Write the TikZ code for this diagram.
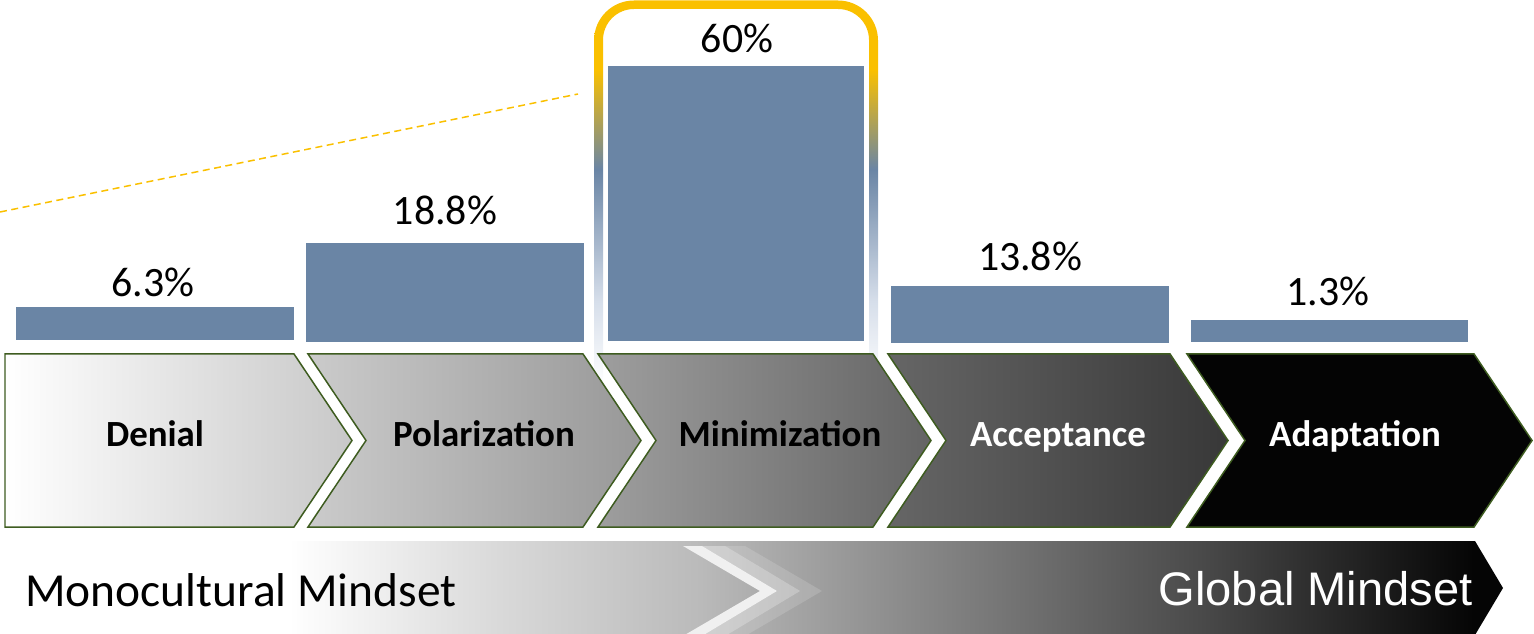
\documentclass[tikz,border=0pt]{standalone}
\usepackage{fontspec}
\setmainfont{Carlito}
\newfontfamily\arialf{Liberation Sans}
\definecolor{barblue}{RGB}{106,133,165}
\definecolor{hlgold}{RGB}{250,192,0}
\definecolor{hllight}{RGB}{214,222,234}
\definecolor{chevline}{RGB}{62,92,32}
\definecolor{bandA}{RGB}{217,217,217}
\definecolor{bandB}{RGB}{186,186,186}
\definecolor{bandC}{RGB}{140,140,140}
\definecolor{bandD}{RGB}{74,74,74}
\definecolor{bandE}{RGB}{5,5,5}
\pgfdeclareverticalshading{hlshade}{100bp}{color(0bp)=(white); color(34bp)=(white); color(43bp)=(hllight); color(57bp)=(barblue); color(67.6bp)=(hlgold); color(100bp)=(hlgold)}
\pgfdeclarehorizontalshading{bandshade}{100bp}{color(0bp)=(white); color(34.6bp)=(white); color(41.6bp)=(bandA); color(48.3bp)=(bandB); color(54.9bp)=(bandC); color(64.9bp)=(bandD); color(74bp)=(bandE); color(100bp)=(black)}
\tikzset{
  pct/.style={inner sep=0pt, anchor=base, font=\fontsize{23.8pt}{28pt}\selectfont},
  stage/.style={inner sep=0pt, anchor=base, font=\fontsize{21pt}{25pt}\selectfont\bfseries},
  chevbox/.style={draw=chevline, line width=0.03cm, line join=miter},
  bar/.style={fill=barblue},
}
\begin{document}
\begin{tikzpicture}[x=0.02cm, y=-0.02cm]
\useasboundingbox (0,0) rectangle (1534,634);
\clip (0,0) rectangle (1534,634);
% highlight ring
\begin{scope}[even odd rule]
  \clip (0,0) rectangle (1534,385);
  \shade[shading=hlshade, even odd rule] [rounded corners=0.8cm] (594,0.5) rectangle (878,470) [rounded corners=0.62cm] (603,9) rectangle (869,461);
\end{scope}
% dashed line
\coordinate (dlA) at (0,212);
\coordinate (dlB) at (578,94);
\draw[hlgold, line width=0.03cm, dash pattern=on 0.14cm off 0.09cm] (dlA) -- (dlB);
% bars
\fill[bar] (16,307) rectangle (294,340);
\fill[bar] (306,243) rectangle (584,342);
\fill[bar] (608,66) rectangle (864,341);
\fill[bar] (891,286) rectangle (1169,343);
\fill[bar] (1191,320) rectangle (1468,342);
% percentages
\node[pct] (p1) at (153,297) {6.3\%};
\node[pct] (p2) at (445,225) {18.8\%};
\node[pct] (p3) at (737,53) {60\%};
\node[pct] (p4) at (1030,271) {13.8\%};
\node[pct] (p5) at (1328,306) {1.3\%};
% chevrons
\path[chevbox, left color=white, right color={rgb,255:red,200;green,200;blue,200}]
  (5,354) -- (294,354) -- (352,440.5) -- (294,527) -- (5,527) -- cycle;
\path[chevbox, left color={rgb,255:red,203;green,203;blue,203}, right color={rgb,255:red,152;green,152;blue,152}]
  (308,354) -- (583,354) -- (641,440.5) -- (583,527) -- (308,527) -- (366,440.5) -- cycle;
\path[chevbox, left color={rgb,255:red,158;green,158;blue,158}, right color={rgb,255:red,100;green,100;blue,100}]
  (598,354) -- (873,354) -- (931,440.5) -- (873,527) -- (598,527) -- (656,440.5) -- cycle;
\path[chevbox, left color={rgb,255:red,102;green,102;blue,102}, right color={rgb,255:red,56;green,56;blue,56}]
  (888,354) -- (1170,354) -- (1228,440.5) -- (1170,527) -- (888,527) -- (946,440.5) -- cycle;
\path[chevbox, fill={rgb,255:red,4;green,4;blue,4}]
  (1187,354) -- (1474,354) -- (1532,440.5) -- (1474,527) -- (1187,527) -- (1245,440.5) -- cycle;
\node[stage] (s1) at (155,447) {Denial};
\node[stage] (s2) at (484,447) {Polarization};
\node[stage] (s3) at (780,447) {Minimization};
\node[stage, text=white] (s4) at (1058,447) {Acceptance};
\node[stage, text=white] (s5) at (1355,447) {Adaptation};
% bottom band
\shade[shading=bandshade] (0,541) -- (1475,541) -- (1503,588) -- (1475,635) -- (0,635) -- cycle;
\fill[white, opacity=0.15] (725,546) -- (745,546) -- (822,591) -- (745,636) -- (725,636) -- (800,591) -- cycle;
\fill[white, opacity=0.35] (702,546) -- (725,546) -- (800,591) -- (725,636) -- (702,636) -- (777,591) -- cycle;
\fill[white!94!black] (683,546) -- (702,546) -- (777,591) -- (702,636) -- (683,636) -- (760,591) -- cycle;
\node[inner sep=0pt, anchor=base west, font=\fontsize{27pt}{32pt}\selectfont] (mono) at (25,606) {Monocultural Mindset};
\node[inner sep=0pt, anchor=base east, text=white, font=\arialf\fontsize{26.8pt}{32pt}\selectfont] (glob) at (1473,605) {Global Mindset};
\end{tikzpicture}
\end{document}
